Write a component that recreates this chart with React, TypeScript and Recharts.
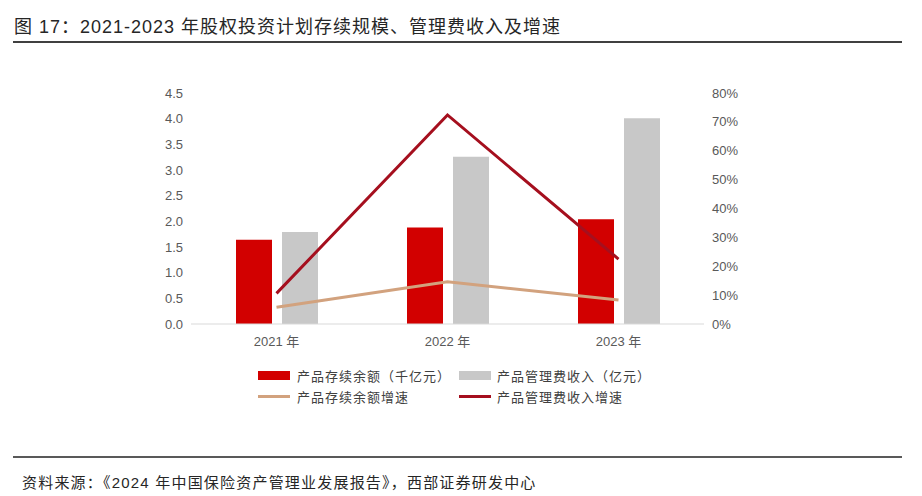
import React from "react";
import { ComposedChart, Bar, Line, XAxis, YAxis } from "recharts";

const categories = ["2021 年", "2022 年", "2023 年"];
const balance = [1.64, 1.88, 2.04];
const feeIncome = [1.79, 3.26, 4.01];
const balanceGrowth = [0.058, 0.146, 0.083];
const feeGrowth = [0.106, 0.724, 0.225];
const leftTicks = [0, 0.5, 1, 1.5, 2, 2.5, 3, 3.5, 4, 4.5];
const rightTicks = [0, 0.1, 0.2, 0.3, 0.4, 0.5, 0.6, 0.7, 0.8];

const title = "图 17：2021-2023 年股权投资计划存续规模、管理费收入及增速";
const source = "资料来源：《2024 年中国保险资产管理业发展报告》，西部证券研发中心";
const legendNames = ["产品存续余额（千亿元）", "产品管理费收入（亿元）", "产品存续余额增速", "产品管理费收入增速"];

const data = categories.map((c, i) => ({
  name: c,
  balance: balance[i],
  fee: feeIncome[i],
  bg: balanceGrowth[i],
  fg: feeGrowth[i],
}));

const FONT = '"Liberation Sans", "Noto Sans CJK SC", sans-serif';
const RED = "#D20000";
const GRAY = "#C8C8C8";
const TAN = "#D2A27E";
const DARK = "#A50F1E";

export default function App() {
  const tick = { fill: "#595959", fontSize: 13, fontFamily: FONT };
  const legText = { position: "absolute" as const, fontSize: 13, color: "#404040", whiteSpace: "nowrap" as const, letterSpacing: 1 };
  return (
    <div style={{ position: "absolute", left: 0, top: 0, width: 922, height: 496, background: "#fff", fontFamily: FONT }}>
      <div style={{ position: "absolute", left: 14, top: 12, fontSize: 18, letterSpacing: 1, color: "#262626", whiteSpace: "nowrap" }}>{title}</div>
      <div style={{ position: "absolute", left: 13, top: 41, width: 889, height: 2, background: "#404040" }} />
      <div style={{ position: "absolute", left: 0, top: 0 }}>
        <ComposedChart width={922} height={496} data={data} margin={{ top: 93, bottom: 142, left: 131, right: 158 }} barGap={10}>
          <XAxis dataKey="name" tickLine={false} axisLine={{ stroke: "#D9D9D9" }} tick={tick} tickMargin={7} interval={0} />
          <YAxis yAxisId="l" domain={[0, 4.5]} ticks={leftTicks} axisLine={false} tickLine={false} tick={tick} width={60} tickFormatter={(v: number) => v.toFixed(1)} interval={0} />
          <YAxis yAxisId="r" orientation="right" domain={[0, 0.8]} ticks={rightTicks} axisLine={false} tickLine={false} tick={{ ...tick, textAnchor: "start" }} width={60} tickFormatter={(v: number) => `${Math.round(v * 100)}%`} interval={0} />
          <Bar yAxisId="l" dataKey="balance" fill={RED} barSize={36} isAnimationActive={false} />
          <Bar yAxisId="l" dataKey="fee" fill={GRAY} barSize={36} isAnimationActive={false} />
          <Line yAxisId="r" dataKey="bg" stroke={TAN} strokeWidth={3} dot={false} isAnimationActive={false} />
          <Line yAxisId="r" dataKey="fg" stroke={DARK} strokeWidth={3} dot={false} isAnimationActive={false} />
        </ComposedChart>
      </div>
      <div style={{ position: "absolute", left: 258, top: 371, width: 32, height: 9, background: RED }} />
      <div style={{ ...legText, left: 297, top: 366 }}>{legendNames[0]}</div>
      <div style={{ position: "absolute", left: 459, top: 371, width: 32, height: 9, background: GRAY }} />
      <div style={{ ...legText, left: 497, top: 366 }}>{legendNames[1]}</div>
      <div style={{ position: "absolute", left: 258, top: 395, width: 32, height: 3, background: TAN }} />
      <div style={{ ...legText, left: 297, top: 387 }}>{legendNames[2]}</div>
      <div style={{ position: "absolute", left: 459, top: 395, width: 32, height: 3, background: DARK }} />
      <div style={{ ...legText, left: 497, top: 387 }}>{legendNames[3]}</div>
      <div style={{ position: "absolute", left: 13, top: 456, width: 889, height: 2, background: "#595959" }} />
      <div style={{ position: "absolute", left: 22, top: 471, fontSize: 15, letterSpacing: 1.2, color: "#262626", whiteSpace: "nowrap" }}>{source}</div>
    </div>
  );
}
